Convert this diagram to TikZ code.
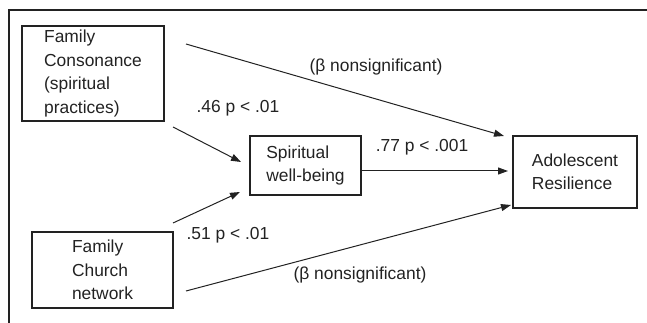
\documentclass[tikz,border=0pt]{standalone}
\usepackage{fontspec}
\setmainfont{Liberation Sans}
\usetikzlibrary{arrows.meta}
\definecolor{ink}{HTML}{222222}
\begin{document}
\begin{tikzpicture}[x=1pt,y=-1pt,
  box/.style={draw=ink,line width=1.1pt,align=left,inner sep=0pt,text=ink,
    font=\fontsize{17.4}{23.5}\selectfont},
  lbl/.style={text=ink,inner sep=0pt,font=\fontsize{17.4}{21}\selectfont},
  arr/.style={draw=ink,line width=1pt,-{Triangle[length=10pt,width=7pt]}}]
\useasboundingbox (0,0) rectangle (647,323);
\draw[ink,line width=1.1pt] (9,323) -- (9,10) -- (647,10);
\node[box,minimum width=142pt,minimum height=95pt] (fc) at (93,73.5) {Family\\Consonance\\(spiritual\\practices)};
\node[box,minimum width=111pt,minimum height=59pt] (sw) at (305.5,165.5) {Spiritual\\well-being};
\node[box,minimum width=124pt,minimum height=72pt] (ar) at (575,172) {Adolescent\\Resilience};
\node[box,minimum width=141pt,minimum height=76pt] (cn) at (102.5,270) {Family\\Church\\network};
\coordinate (a1) at (186,44);  \coordinate (b1) at (504,136);
\coordinate (a2) at (173,127); \coordinate (b2) at (241,162);
\coordinate (a3) at (173,223); \coordinate (b3) at (240,192);
\coordinate (a4) at (361,171); \coordinate (b4) at (508,171);
\coordinate (a5) at (186,291); \coordinate (b5) at (511,205);
\draw[arr] (a1) -- (b1);
\draw[arr] (a2) -- (b2);
\draw[arr] (a3) -- (b3);
\draw[arr] (a4) -- (b4);
\draw[arr] (a5) -- (b5);
\node[lbl] (l1) at (376,67) {(β nonsignificant)};
\node[lbl] (l2) at (238,108) {.46 p < .01};
\node[lbl] (l3) at (422,147) {.77 p < .001};
\node[lbl] (l4) at (228,235) {.51 p < .01};
\node[lbl] (l5) at (360,275) {(β nonsignificant)};
\end{tikzpicture}
\end{document}
